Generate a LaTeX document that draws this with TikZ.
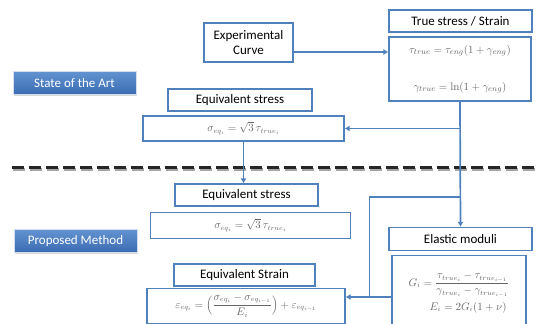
\documentclass[tikz,border=0pt]{standalone}
\usepackage{amsmath,amssymb}
\usepackage[no-math]{fontspec}
\setmainfont{Carlito}
\usetikzlibrary{arrows.meta,shadows}

\definecolor{boxblue}{RGB}{79,129,189}
\definecolor{btntop}{RGB}{98,146,208}
\definecolor{btnbot}{RGB}{58,108,178}

\tikzset{
  titlebox/.style={draw=boxblue,line width=1.1pt,fill=white,inner sep=1pt,
    font=\fontsize{13}{15}\selectfont},
  eqbox/.style={draw=boxblue,line width=1.1pt,fill=white,inner sep=1pt,text=black!60},
  button/.style={draw=white!75!boxblue,line width=1pt,top color=btntop,bottom color=btnbot,
    text=white,minimum width=123pt,minimum height=23pt,font=\fontsize{13}{15}\selectfont,
    drop shadow={opacity=0.3,shadow xshift=1pt,shadow yshift=-1.5pt}},
  conn/.style={draw=boxblue,line width=1.7pt,-{Latex[length=5pt,width=6pt]}},
  link/.style={draw=boxblue,line width=1.7pt},
}

\begin{document}
\begin{tikzpicture}[x=1pt,y=-1pt]
\useasboundingbox (0,0) rectangle (539,324);
% separator
\draw[black!35,line width=2.6pt,dash pattern=on 12pt off 5pt] (13,169.5) -- (541,169.5);
\draw[black!85,line width=2.4pt,dash pattern=on 12pt off 5pt] (12,167.5) -- (540,167.5);
% labels
\node[button] (soa) at (74.5,83) {State of the Art};
\node[button] (pm) at (75.5,241) {Proposed Method};
% upper part
\node[titlebox,minimum width=89pt,minimum height=39pt,align=center] (exp) at (248.5,42.5) {Experimental\\Curve};
\node[titlebox,minimum width=143pt,minimum height=22pt] (truetitle) at (460.5,21) {True stress / Strain};
\node[eqbox,minimum width=142pt,minimum height=64pt,font=\fontsize{11}{13}\selectfont] (trueeq) at (460,69)
  {$\begin{array}{c}\tau_{true}=\tau_{eng}(1+\gamma_{eng})\\[24pt]\gamma_{true}=\ln(1+\gamma_{eng})\end{array}$};
\node[titlebox,minimum width=144pt,minimum height=22pt] (eqonetitle) at (240,100) {Equivalent stress};
\node[eqbox,minimum width=201pt,minimum height=25pt,font=\fontsize{10.5}{12}\selectfont] (eqone) at (243.5,128.5)
  {$\sigma_{eq_i}=\sqrt{3}\,\tau_{true_i}$};
% lower part
\node[titlebox,minimum width=143pt,minimum height=22pt] (eqtwotitle) at (246.5,195) {Equivalent stress};
\node[eqbox,minimum width=200pt,minimum height=26pt,font=\fontsize{10.5}{12}\selectfont] (eqtwo) at (250.5,225.5)
  {$\sigma_{eq_i}=\sqrt{3}\,\tau_{true_i}$};
\node[titlebox,minimum width=143pt,minimum height=23pt] (elastictitle) at (460.5,239) {Elastic moduli};
\node[eqbox,minimum width=134pt,minimum height=76pt,font=\fontsize{10.5}{12}\selectfont,anchor=north] (elasticeq) at (459,254.5)
  {$\begin{array}{l}G_i=\dfrac{\tau_{true_i}-\tau_{true_{i-1}}}{\gamma_{true_i}-\gamma_{true_{i-1}}}\\[12pt]
   \qquad E_i=2G_i(1+\nu)\end{array}$};
\node[titlebox,minimum width=141pt,minimum height=22pt] (straintitle) at (244.5,275) {Equivalent Strain};
\node[eqbox,minimum width=198pt,minimum height=35pt,inner sep=0pt,font=\fontsize{10.5}{12}\selectfont,anchor=north] (strain) at (246,287.5)
  {$\varepsilon_{eq_i}=\Bigl(\dfrac{\sigma_{eq_i}-\sigma_{eq_{i-1}}}{E_i}\Bigr)+\varepsilon_{eq_{i-1}}$};
% connectors
\coordinate (bend) at (369.5,197);
\coordinate (tap) at (369.5,297);
\draw[conn] ([yshift=-9.5pt]exp.east) -- ([yshift=-9.5pt]exp.east -| trueeq.west);
\draw[conn] (trueeq.south) -- (elastictitle.north);
\draw[conn] (trueeq.south |- eqone.east) -- (eqone.east);
\draw[conn] (eqone.south) -- (eqone.south |- eqtwotitle.north);
\draw[link] (trueeq.south |- bend) -- (bend) -- (tap);
\draw[conn] (elasticeq.west |- tap) -- (strain.east |- tap);
\end{tikzpicture}
\end{document}
